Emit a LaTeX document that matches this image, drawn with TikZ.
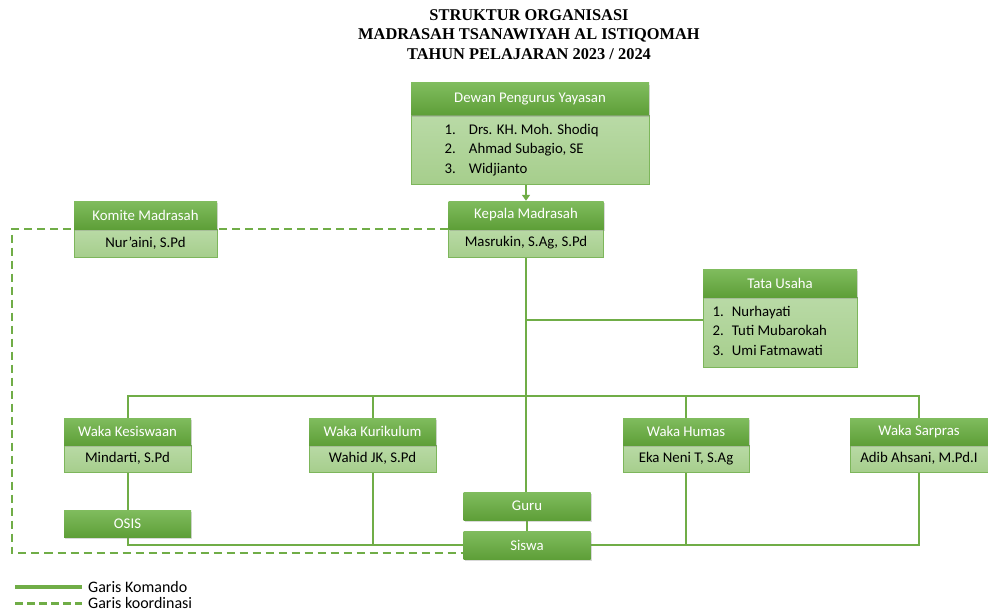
\documentclass[tikz,border=0pt]{standalone}
\usepackage{fontspec}
\setmainfont{Carlito}
\newfontfamily\judulfont{Liberation Serif}
\usetikzlibrary{arrows.meta,shadows}
\pgfdeclarelayer{background}
\pgfsetlayers{background,main}
\definecolor{hijau}{HTML}{70AD47}
\definecolor{hijauatas}{HTML}{80BC5E}
\definecolor{hijaubawah}{HTML}{5E9F38}
\definecolor{mudaatas}{HTML}{B9DAA6}
\definecolor{mudabawah}{HTML}{A6CE8C}
\definecolor{tepi}{HTML}{7DB65B}

\begin{document}
\begin{tikzpicture}[x=1pt,y=-1pt,
    jabatan/.style={rectangle, top color=hijauatas, bottom color=hijaubawah, text=white,
        font=\fontsize{14.8}{17.5}\selectfont, inner sep=0pt, minimum height=28pt,
        drop shadow={shadow xshift=1pt, shadow yshift=-2pt, opacity=0.3}},
    nama/.style={rectangle, top color=mudaatas, bottom color=mudabawah, draw=tepi, line width=1pt,
        text=black, font=\fontsize{14.8}{17.5}\selectfont, inner sep=0pt, minimum height=28pt},
    daftar/.style={inner sep=0pt, font=\fontsize{14.8}{17.5}\selectfont, anchor=west},
    komando/.style={draw=hijau, line width=2pt},
    koordinasi/.style={draw=hijau, line width=2pt, dash pattern=on 8pt off 5pt},
    ket/.style={font=\fontsize{16}{17}\selectfont, anchor=west, inner sep=0pt, inner xsep=6pt}]
\useasboundingbox (0,0) rectangle (988,615);

\node[font=\judulfont\bfseries\fontsize{16.4}{19.2}\selectfont, align=center] (judul) at (529,34.5)
    {STRUKTUR ORGANISASI\\MADRASAH TSANAWIYAH AL ISTIQOMAH\\TAHUN PELAJARAN 2023 / 2024};

\node[nama, minimum width=238pt, minimum height=68pt] (dewanb) at (530,150) {};
\node[jabatan, minimum width=238pt, minimum height=32pt] (dewan) at (530,99) {Dewan Pengurus Yayasan};
\node[daftar] (dewanl) at ([xshift=34pt]dewanb.west)
    {\def\arraystretch{1.1}\begin{tabular}{@{}l@{\hspace{13pt}}l@{}}1.&Drs. KH. Moh. Shodiq\\2.&Ahmad Subagio, SE\\3.&Widjianto\end{tabular}};

\node[nama, minimum width=155pt] (kepalab) at (526,243) {Masrukin, S.Ag, S.Pd};
\node[jabatan, minimum width=155pt] (kepala) at (526,215) {Kepala Madrasah};

\node[nama, minimum width=143pt] (komiteb) at (145.5,243) {Nur’aini, S.Pd};
\node[jabatan, minimum width=143pt] (komite) at (145.5,215) {Komite Madrasah};

\node[nama, minimum width=154pt, minimum height=70pt] (tatab) at (780,332) {};
\node[jabatan, minimum width=154pt] (tata) at (780,283) {Tata Usaha};
\node[daftar] (tatal) at ([xshift=10pt]tatab.west)
    {\def\arraystretch{1.1}\begin{tabular}{@{}l@{\hspace{8pt}}l@{}}1.&Nurhayati\\2.&Tuti Mubarokah\\3.&Umi Fatmawati\end{tabular}};

\node[nama, minimum width=127pt, minimum height=27pt] (kesisb) at (127.5,458.5) {Mindarti, S.Pd};
\node[jabatan, minimum width=127pt, minimum height=27pt] (kesis) at (127.5,431.5) {Waka Kesiswaan};
\node[nama, minimum width=127pt, minimum height=27pt] (kurib) at (372.5,458.5) {Wahid JK, S.Pd};
\node[jabatan, minimum width=127pt, minimum height=27pt] (kuri) at (372.5,431.5) {Waka Kurikulum};
\node[nama, minimum width=126pt, minimum height=27pt] (humasb) at (686,458.5) {Eka Neni T, S.Ag};
\node[jabatan, minimum width=126pt, minimum height=27pt] (humas) at (686,431.5) {Waka Humas};
\node[nama, minimum width=138pt, minimum height=27pt] (sarprasb) at (919,458.5) {Adib Ahsani, M.Pd.I};
\node[jabatan, minimum width=138pt, minimum height=27pt] (sarpras) at (919,431.5) {Waka Sarpras};

\node[jabatan, minimum width=127pt, minimum height=27pt] (osis) at (127.5,523.5) {OSIS};
\node[jabatan, minimum width=127pt] (guru) at (527,506) {Guru};
\node[jabatan, minimum width=127pt] (siswa) at (527,545) {Siswa};

\node[ket] (gk) at (82,587) {Garis Komando};
\node[ket] (gko) at (82,603) {Garis koordinasi};
\coordinate (k1) at (15,587);
\coordinate (k2) at (15,603);

\coordinate (bus) at (526,396);
\coordinate (tu) at (526,320);
\coordinate (kiri) at (12,553);

\begin{pgfonlayer}{background}
\draw[komando, -{Triangle[width=8pt,length=6pt]}] (dewanb.south -| kepala.north) -- (kepala.north);
\draw[komando] (kepalab.south) -- (kepalab.south |- guru.north);
\draw[komando] (tu) -- (tu -| tatab.west);
\draw[komando] (kesis.north) |- (bus) -| (sarpras.north);
\draw[komando] (kuri.north) -- (kuri.north |- bus);
\draw[komando] (humas.north) -- (humas.north |- bus);
\draw[komando] (kesisb.south) -- (osis.north);
\draw[komando] (osis.south) |- (siswa.west);
\draw[komando] (kurib.south) -- (kurib.south |- siswa.west);
\draw[komando] (siswa.east) -| (sarprasb.south);
\draw[komando] (humasb.south) -- (humasb.south |- siswa.east);
\draw[komando] (guru.south) -- (siswa.north);
\draw[koordinasi] (kepalab.north west) -| (kiri) -- (kiri -| siswa.west);
\end{pgfonlayer}

\draw[komando, line width=3.5pt] (k1) -- (gk.west);
\draw[koordinasi, line width=3pt, dash pattern=on 8pt off 4pt] (k2) -- (gko.west);
\end{tikzpicture}
\end{document}
